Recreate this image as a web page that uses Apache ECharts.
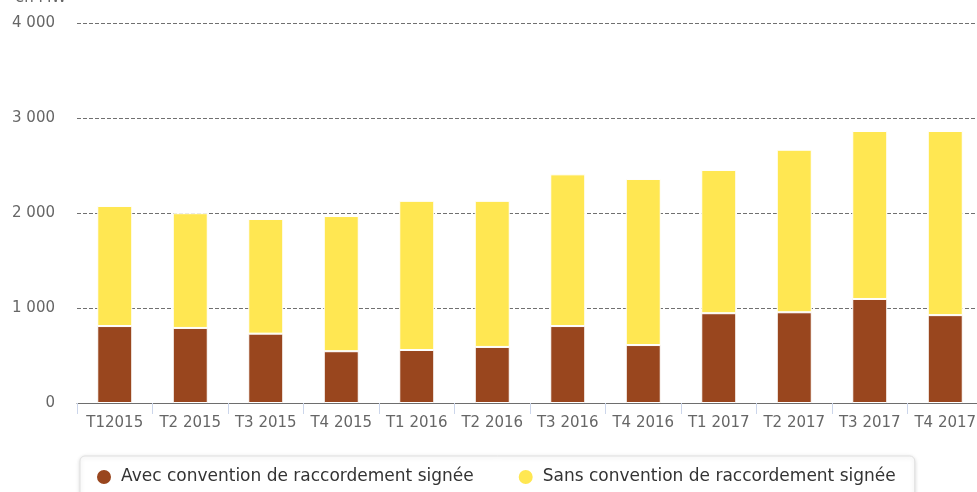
<!DOCTYPE html>
<html>
<head>
<meta charset="utf-8">
<script src="https://cdn.jsdelivr.net/npm/echarts@6/dist/echarts.min.js"></script>
<style>
  html, body { margin: 0; padding: 0; background: #fff; }
  #chart { width: 977px; height: 492px; }
</style>
</head>
<body>
<div id="chart"></div>
<script>
// trimestres
const categories = ['T12015', 'T2 2015', 'T3 2015', 'T4 2015', 'T1 2016', 'T2 2016',
  'T3 2016', 'T4 2016', 'T1 2017', 'T2 2017', 'T3 2017', 'T4 2017']
// en MW
const avecConvention = [810, 790, 730, 545, 558, 590, 810, 610, 945, 955, 1095, 925]
const sansConvention = [1264, 1208, 1207, 1423, 1570, 1538, 1597, 1748, 1508, 1711, 1768, 1938]
const yTicks = [0, 1000, 2000, 3000, 4000]

const font = 'DejaVu Sans'
const chart = echarts.init(document.getElementById('chart'), null, { renderer: 'canvas' })

const options = {
  animation: false,
  title: {
    text: 'en MW',
    left: 10,
    top: -14,
    textStyle: { fontFamily: font, fontSize: 15, fontWeight: 'normal', color: '#666' }
  },
  grid: { left: 77, top: 23, width: 906, height: 380, containLabel: false, outerBoundsMode: 'none' },
  legend: {
    data: ['Avec convention de raccordement signée', 'Sans convention de raccordement signée'],
    left: 80,
    top: 456,
    icon: 'circle',
    itemWidth: 16,
    itemHeight: 16,
    itemGap: 43,
    padding: [12, 19, 12, 15],
    backgroundColor: '#fff',
    borderColor: '#e0e0e0',
    borderWidth: 1,
    borderRadius: 5,
    shadowColor: 'rgba(0,0,0,0.15)',
    shadowBlur: 4,
    shadowOffsetY: 1,
    textStyle: { fontFamily: font, fontSize: 17, color: '#333', padding: [0, 0, 0, 4] }
  },
  xAxis: {
    type: 'category',
    data: categories,
    axisLine: { lineStyle: { color: '#6e6e6e', width: 1 } },
    axisTick: { show: true, length: 11, lineStyle: { color: '#ccd6eb' } },
    axisLabel: { interval: 0, margin: 13, fontFamily: font, fontSize: 15, color: '#666' }
  },
  yAxis: {
    type: 'value',
    min: yTicks[0],
    max: yTicks[yTicks.length - 1],
    interval: 1000,
    axisLine: { show: false },
    axisTick: { show: false },
    axisLabel: {
      margin: 22,
      fontFamily: font,
      fontSize: 15,
      color: '#666',
      formatter: v => String(v).replace(/\B(?=(\d{3})+(?!\d))/g, ' ')
    },
    splitLine: { lineStyle: { type: [4, 2], color: '#707070', width: 1 } }
  },
  series: [
    {
      name: 'Avec convention de raccordement signée',
      type: 'bar',
      stack: 'total',
      barWidth: 35,
      data: avecConvention,
      itemStyle: { color: '#99461e', borderColor: '#fff', borderWidth: 1 }
    },
    {
      name: 'Sans convention de raccordement signée',
      type: 'bar',
      stack: 'total',
      barWidth: 35,
      data: sansConvention,
      itemStyle: { color: '#ffe752', borderColor: '#fff', borderWidth: 1 }
    }
  ]
}
chart.setOption(options)
</script>
</body>
</html>
